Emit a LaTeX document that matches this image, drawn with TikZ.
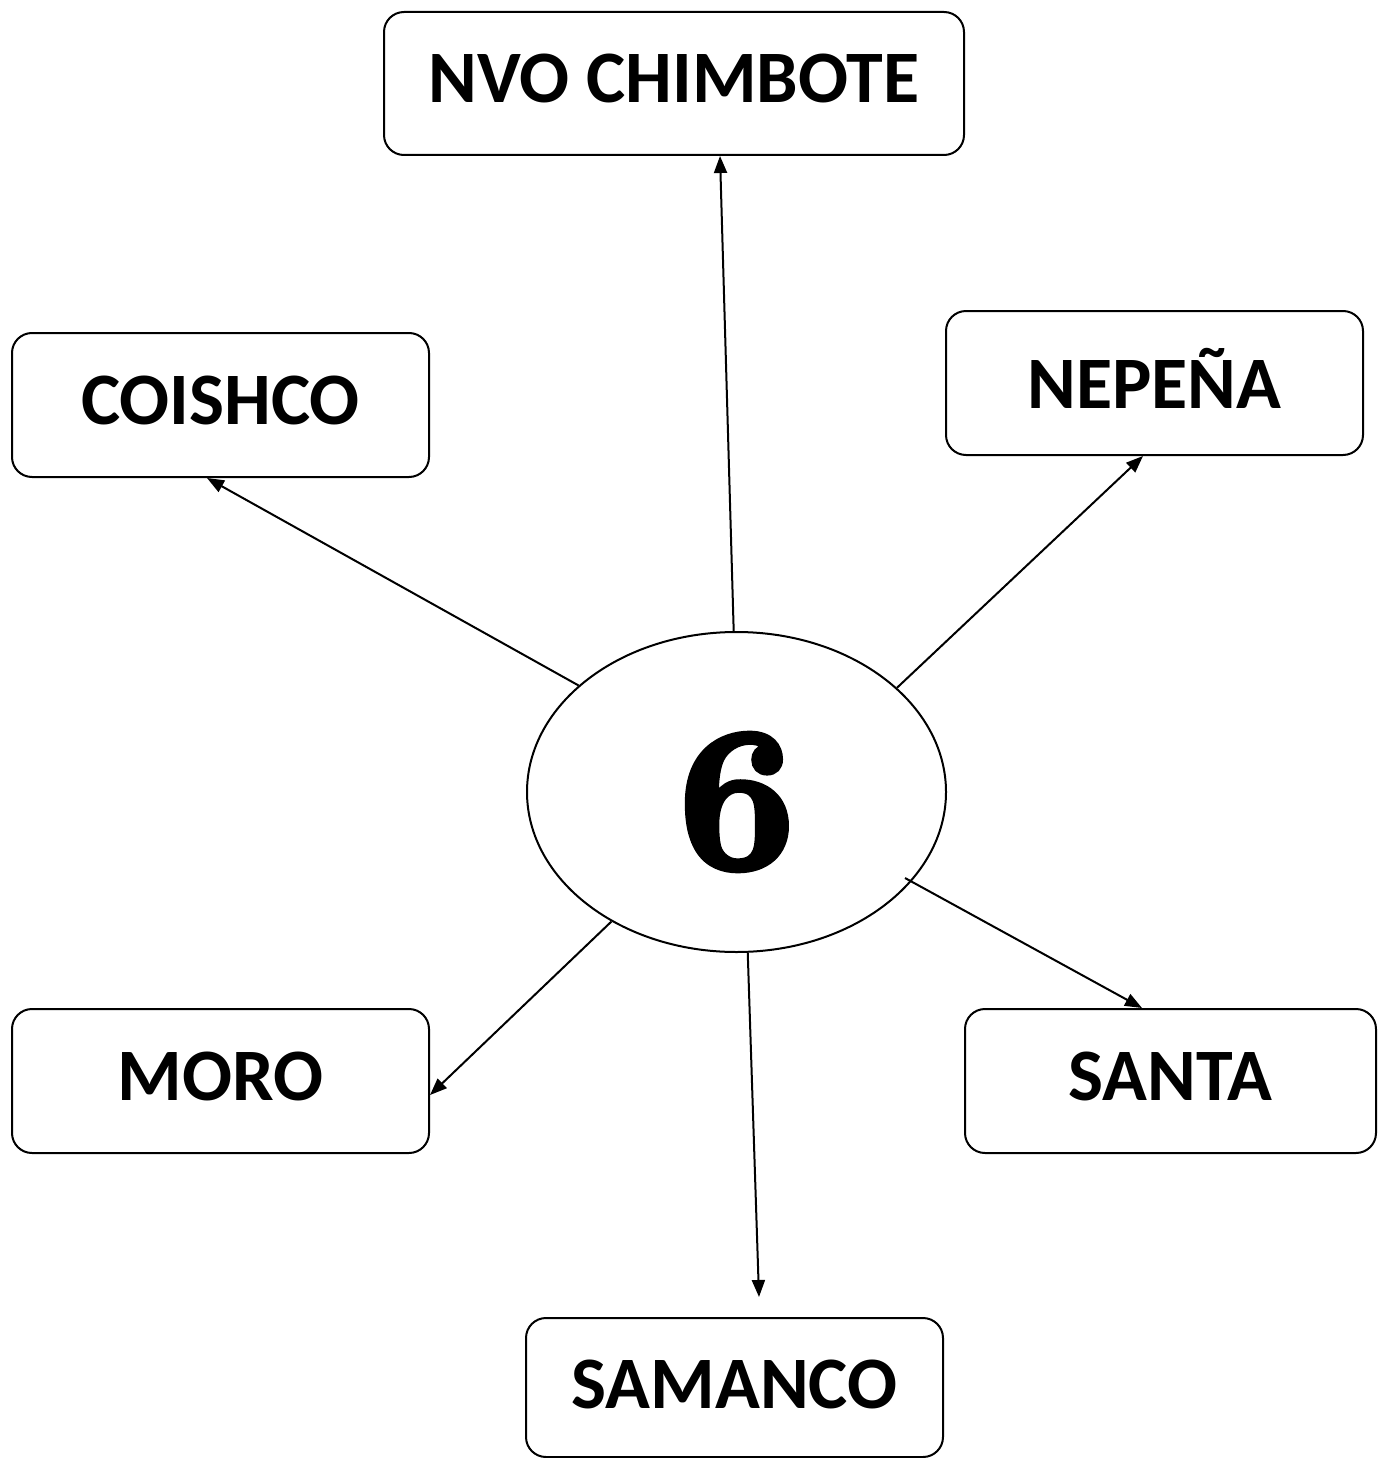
\documentclass[tikz,border=0pt]{standalone}
\usepackage{fontspec}
\setmainfont{Carlito}
\newfontfamily\sixfont{lmroman10-bold.otf}[FakeBold=3]
\usetikzlibrary{shapes.geometric,arrows.meta,calc}
\begin{document}
\begin{tikzpicture}[x=1pt,y=-1pt,
  box/.style={draw,line width=2pt,rounded corners=20pt,inner sep=0pt,
    font=\fontsize{74}{76}\selectfont\bfseries},
  link/.style={line width=2pt,-{Triangle[length=17pt,width=13pt]}}]
\useasboundingbox (0,0) rectangle (1377,1458);
\node[draw,line width=2pt,ellipse,minimum width=419pt,minimum height=320pt,inner sep=0pt] (c) at (736.5,792) {};
\node[font=\sixfont\fontsize{205}{205}\selectfont] (six) at (737,802) {6};
\node[box,minimum width=580pt,minimum height=143pt] (nvo) at (674,83.5) {\raisebox{10pt}{NVO CHIMBOTE}};
\node[box,minimum width=417pt,minimum height=144pt] (coi) at (220.5,405) {\raisebox{9pt}{COISHCO}};
\node[box,minimum width=417pt,minimum height=144pt] (nep) at (1154.5,383) {\raisebox{9pt}{NEPEÑA}};
\node[box,minimum width=417pt,minimum height=144pt] (moro) at (220.5,1081) {\raisebox{9pt}{MORO}};
\node[box,minimum width=411pt,minimum height=144pt] (santa) at (1170.5,1081) {\raisebox{9pt}{SANTA}};
\node[box,minimum width=417pt,minimum height=139pt] (sam) at (734.5,1387.5) {\raisebox{7pt}{SAMANCO}};
\draw[link] (c.91) -- ([xshift=46pt]nvo.south);
\draw[link] (c.146.5) -- ([xshift=-13.5pt]coi.south);
\draw[link] (c.33.7) -- ([xshift=-11.5pt]nep.south);
\draw[link] (c.226.7) -- ([yshift=-14pt]moro.east);
\draw[link] (c.274.5) -- ([shift={(24.5pt,20pt)}]sam.north);
\draw[link] ($(c.center)+(168.5,86)$) -- ([xshift=-28.5pt]santa.north);
\end{tikzpicture}
\end{document}
